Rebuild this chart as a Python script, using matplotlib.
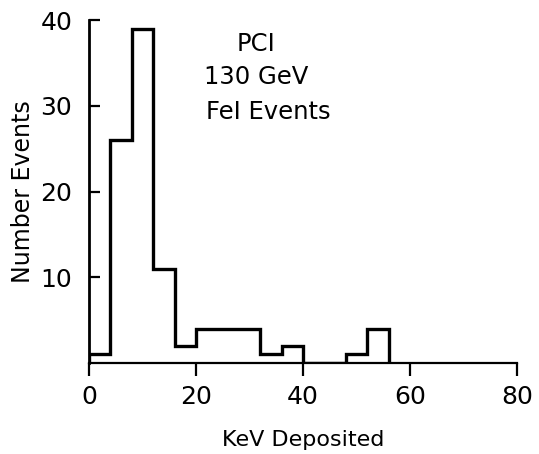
import numpy as np
import matplotlib
matplotlib.use("Agg")
import matplotlib.pyplot as plt

# histogram data (4 keV bins)
bin_edges = [0, 4, 8, 12, 16, 20, 24, 28, 32, 36, 40, 44, 48, 52, 56]
counts = [1, 26, 39, 11, 2, 4, 4, 4, 1, 2, 0, 0, 1, 4]
x_ticks = [0, 20, 40, 60, 80]
y_ticks = [10, 20, 30, 40]
labels = ["PCI", "130 GeV", "FeI Events"]
label_x = [31.2, 31.2, 33.6]
label_y = [37.2, 33.3, 29.3]

plt.rcParams['font.family'] = ['DejaVu Sans']

fig = plt.figure(figsize=(5.39, 4.54), dpi=100)
ax = fig.add_axes([0.165, 0.2004, 0.794, 0.7555])

ax.stairs(counts, bin_edges, color="black", linewidth=2.4)
ax.plot([0, 80], [0, 0], color="black", linewidth=1.6, clip_on=False)

ax.set_xlim(0, 80)
ax.set_ylim(0, 40)
ax.set_xticks(x_ticks)
ax.set_yticks(y_ticks)

for s in ["top", "right", "bottom"]:
    ax.spines[s].set_visible(False)
ax.spines["left"].set_linewidth(2.0)

ax.tick_params(axis="x", direction="out", length=9, width=1.6, pad=7, labelsize=18)
ax.tick_params(axis="y", direction="in", length=8, width=1.6, pad=12, labelsize=18)

ax.set_xlabel("KeV Deposited", fontsize=16, labelpad=15)
ax.set_ylabel("Number Events", fontsize=17, labelpad=4)

for t, lx, ly in zip(labels, label_x, label_y):
    ax.text(lx, ly, t, fontsize=17.5, ha="center", va="center")

fig.savefig("out.png", dpi=100)
